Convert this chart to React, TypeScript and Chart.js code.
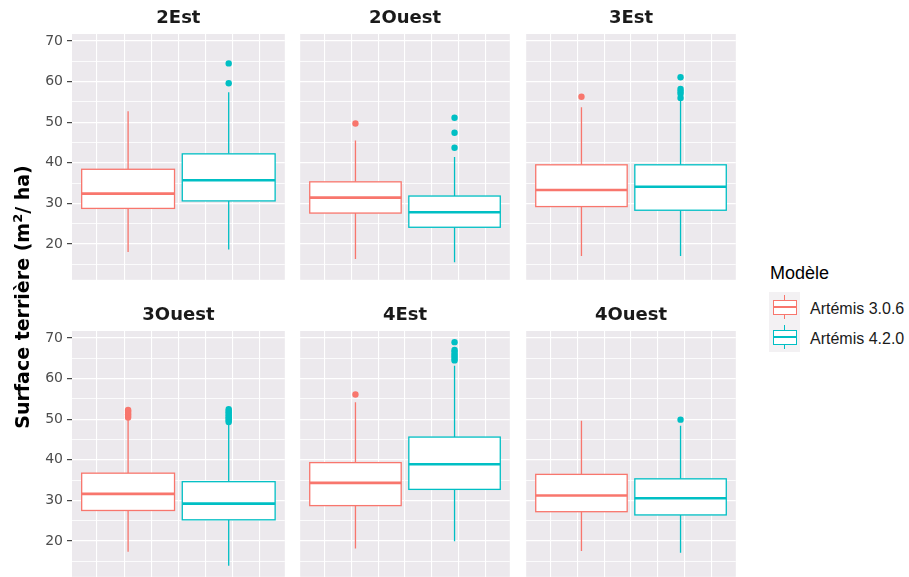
import React, { useEffect, useRef } from 'react';
import { Chart, registerables } from 'chart.js';

Chart.register(...registerables);

// ---------- data ----------
const FACETS = ['2Est', '2Ouest', '3Est', '3Ouest', '4Est', '4Ouest'];
const MODELS = ['Artémis 3.0.6', 'Artémis 4.2.0'];
const COLORS = ['#F8766D', '#00BFC4'];

// Artémis 3.0.6, one value per facet
const LOW_306 = [18.0, 16.3, 17.0, 17.3, 18.1, 17.5];
const Q1_306 = [28.75, 27.6, 29.2, 27.5, 28.7, 27.2];
const MEDIAN_306 = [32.4, 31.4, 33.3, 31.6, 34.3, 31.2];
const Q3_306 = [38.4, 35.3, 39.5, 36.7, 39.3, 36.4];
const HIGH_306 = [52.7, 45.5, 53.7, 49.9, 54.2, 49.6];
const OUTLIERS_306 = [[], [49.7], [56.3], [50.4, 50.8, 51.2, 51.6, 52.0, 52.3], [56.1], []];

// Artémis 4.2.0, one value per facet
const LOW_420 = [18.6, 15.5, 17.0, 13.9, 19.9, 17.1];
const Q1_420 = [30.6, 24.1, 28.3, 25.2, 32.7, 26.4];
const MEDIAN_420 = [35.7, 27.8, 34.1, 29.2, 38.9, 30.5];
const Q3_420 = [42.2, 31.8, 39.5, 34.6, 45.6, 35.3];
const HIGH_420 = [57.4, 41.4, 55.6, 48.9, 63.2, 48.4];
const OUTLIERS_420 = [
  [59.6, 64.5],
  [43.7, 47.4, 51.1],
  [56.0, 57.0, 57.6, 58.2, 61.1],
  [49.3, 49.7, 50.1, 50.5, 50.9, 51.3, 51.7, 52.1, 52.5],
  [64.5, 65.0, 65.5, 66.0, 66.6, 67.1, 69.0],
  [49.9],
];

const Y_TICKS = [20, 30, 40, 50, 60, 70];
const Y_MINOR = [15, 25, 35, 45, 55, 65];
const MODEL_X = [0, 1];
const X_BREAKS = [-0.31, -0.04, 0.23, 0.5, 0.77, 1.04, 1.31];

const SERIES = [
  { low: LOW_306, q1: Q1_306, med: MEDIAN_306, q3: Q3_306, high: HIGH_306, out: OUTLIERS_306 },
  { low: LOW_420, q1: Q1_420, med: MEDIAN_420, q3: Q3_420, high: HIGH_420, out: OUTLIERS_420 },
];

// ---------- scale ranges (ggplot-style 5% expansion) ----------
const allVals = SERIES.flatMap((s) => [...s.low, ...s.high, ...s.out.flat()]);
const DMIN = Math.min(...allVals);
const DMAX = Math.max(...allVals);
const Y_MIN = DMIN - 0.05 * (DMAX - DMIN);
const Y_MAX = DMAX + 0.05 * (DMAX - DMIN);
const BOX_HALF = 0.4615;
const XL = MODEL_X[0] - BOX_HALF;
const XR = MODEL_X[1] + BOX_HALF;
const X_MIN = XL - 0.05 * (XR - XL);
const X_MAX = XR + 0.05 * (XR - XL);

// ---------- layout / style ----------
const PANEL_LEFT = [72, 297, 523];
const PANEL_W = 216;
const ROW_TOP = [0, 297];
const CANVAS_H = 283;
const PANEL_BG = '#ECE9ED';
const KEY_BG = '#F3F1F3';

const panelBg = {
  id: 'panelBg',
  beforeDraw(chart: any) {
    const { ctx, chartArea } = chart;
    ctx.save();
    ctx.fillStyle = PANEL_BG;
    ctx.fillRect(chartArea.left, chartArea.top, chartArea.width, chartArea.height);
    ctx.restore();
  },
};

const boxes = {
  id: 'boxes',
  beforeDatasetsDraw(chart: any, _args: any, opts: any) {
    const f = opts.facet;
    const { ctx } = chart;
    const x = chart.scales.x;
    const y = chart.scales.y;
    for (let m = 0; m < 2; m++) {
      const s = SERIES[m];
      const xc = x.getPixelForValue(MODEL_X[m]);
      const xl = x.getPixelForValue(MODEL_X[m] - BOX_HALF);
      const xr = x.getPixelForValue(MODEL_X[m] + BOX_HALF);
      const yLow = y.getPixelForValue(s.low[f]);
      const yQ1 = y.getPixelForValue(s.q1[f]);
      const yMed = y.getPixelForValue(s.med[f]);
      const yQ3 = y.getPixelForValue(s.q3[f]);
      const yHigh = y.getPixelForValue(s.high[f]);
      ctx.save();
      ctx.strokeStyle = COLORS[m];
      ctx.lineWidth = 1.3;
      ctx.beginPath();
      ctx.moveTo(xc, yHigh);
      ctx.lineTo(xc, yQ3);
      ctx.moveTo(xc, yQ1);
      ctx.lineTo(xc, yLow);
      ctx.stroke();
      ctx.fillStyle = '#FFFFFF';
      ctx.fillRect(xl, yQ3, xr - xl, yQ1 - yQ3);
      ctx.strokeRect(xl, yQ3, xr - xl, yQ1 - yQ3);
      ctx.lineWidth = 2.6;
      ctx.beginPath();
      ctx.moveTo(xl, yMed);
      ctx.lineTo(xr, yMed);
      ctx.stroke();
      ctx.restore();
    }
  },
};

function makeConfig(f: number): any {
  const isLeft = f % 3 === 0;
  const yTickVals = [...Y_TICKS, ...Y_MINOR].sort((a, b) => a - b);
  return {
    type: 'scatter',
    data: {
      datasets: SERIES.map((s, m) => ({
        label: MODELS[m],
        data: s.out[f].map((v) => ({ x: MODEL_X[m], y: v })),
        backgroundColor: COLORS[m],
        borderWidth: 0,
        pointRadius: 3.2,
        pointHoverRadius: 3.2,
      })),
    },
    plugins: [panelBg, boxes],
    options: {
      responsive: false,
      animation: false,
      events: [],
      layout: { padding: 0 },
      plugins: {
        legend: { display: false },
        tooltip: { enabled: false },
        boxes: { facet: f },
        title: {
          display: true,
          text: FACETS[f],
          fullSize: false,
          color: '#1A1A1A',
          font: { family: 'DejaVu Sans', weight: 'bold', size: 18, lineHeight: 1.2 },
          padding: { top: 7.7, bottom: 4.7 },
        },
      },
      scales: {
        x: {
          type: 'linear',
          min: X_MIN,
          max: X_MAX,
          afterBuildTicks: (sc: any) => {
            sc.ticks = X_BREAKS.map((v) => ({ value: v }));
          },
          ticks: { display: false },
          grid: { color: '#FFFFFF', lineWidth: 1.1, drawTicks: false },
          border: { display: false },
        },
        y: {
          type: 'linear',
          min: Y_MIN,
          max: Y_MAX,
          afterBuildTicks: (sc: any) => {
            sc.ticks = yTickVals.map((v) => ({ value: v }));
          },
          afterFit: (sc: any) => {
            sc.width = isLeft ? PANEL_LEFT[0] : 0;
            sc.paddingTop = 0;
            sc.paddingBottom = 0;
          },
          ticks: {
            display: isLeft,
            padding: 4,
            color: '#4D4D4D',
            font: { family: 'DejaVu Sans', size: 14 },
            callback: (v: number) => (Y_TICKS.includes(v) ? String(v) : ''),
          },
          grid: {
            color: '#FFFFFF',
            lineWidth: (c: any) => (c.tick && Y_TICKS.includes(c.tick.value) ? 1.3 : 0.8),
            drawTicks: isLeft,
            tickLength: 5,
            tickWidth: 1.1,
            tickColor: (c: any) => (c.tick && Y_TICKS.includes(c.tick.value) ? '#333333' : 'rgba(0,0,0,0)'),
          },
          border: { display: false },
        },
      },
    },
  };
}

function Panel({ f }: { f: number }) {
  const ref = useRef<HTMLCanvasElement>(null);
  useEffect(() => {
    const chart = new Chart(ref.current as HTMLCanvasElement, makeConfig(f));
    return () => chart.destroy();
  }, [f]);
  const col = f % 3;
  const row = Math.floor(f / 3);
  const left = col === 0 ? 0 : PANEL_LEFT[col];
  const width = col === 0 ? PANEL_LEFT[0] + PANEL_W : PANEL_W;
  return (
    <canvas
      ref={ref}
      width={width}
      height={CANVAS_H}
      style={{ position: 'absolute', left, top: ROW_TOP[row], width, height: CANVAS_H }}
    />
  );
}

function LegendKey({ m, top }: { m: number; top: number }) {
  const c = COLORS[m];
  return (
    <div style={{ position: 'absolute', left: 769, top, width: 31, height: 30, background: KEY_BG }}>
      <div style={{ position: 'absolute', left: 15, top: 3, width: 1.3, height: 24, background: c }} />
      <div
        style={{
          position: 'absolute',
          left: 3.5,
          top: 7.5,
          width: 24,
          height: 15,
          boxSizing: 'border-box',
          border: `1.3px solid ${c}`,
          background: '#FFFFFF',
        }}
      />
      <div style={{ position: 'absolute', left: 3.5, top: 14.2, width: 24, height: 1.6, background: c }} />
    </div>
  );
}

export default function App() {
  return (
    <div
      style={{
        position: 'fixed',
        left: 0,
        top: 0,
        width: 909,
        height: 577,
        overflow: 'hidden',
        background: '#FFFFFF',
        fontFamily: '"Liberation Sans", Arial, sans-serif',
      }}
    >
      {FACETS.map((_, f) => (
        <Panel key={f} f={f} />
      ))}
      <div
        style={{
          position: 'absolute',
          left: 22 - 150,
          top: 297 - 12,
          width: 300,
          height: 24,
          lineHeight: '24px',
          textAlign: 'center',
          transform: 'rotate(-90deg)',
          fontFamily: '"DejaVu Sans", sans-serif',
          fontWeight: 'bold',
          fontSize: 19,
          color: '#000000',
          whiteSpace: 'nowrap',
        }}
      >
        Surface terrière (m<sup style={{ fontSize: 13, lineHeight: 0 }}>2</sup>/ ha)
      </div>
      <div
        style={{
          position: 'absolute',
          left: 770,
          top: 263,
          lineHeight: '20px',
          fontSize: 18,
          color: '#000000',
          whiteSpace: 'nowrap',
        }}
      >
        Modèle
      </div>
      <LegendKey m={0} top={292} />
      <LegendKey m={1} top={322} />
      {MODELS.map((name, m) => (
        <div
          key={name}
          style={{
            position: 'absolute',
            left: 810,
            top: 299 + m * 30.3,
            lineHeight: '20px',
            fontSize: 16,
            color: '#1A1A1A',
            whiteSpace: 'nowrap',
          }}
        >
          {name}
        </div>
      ))}
    </div>
  );
}
